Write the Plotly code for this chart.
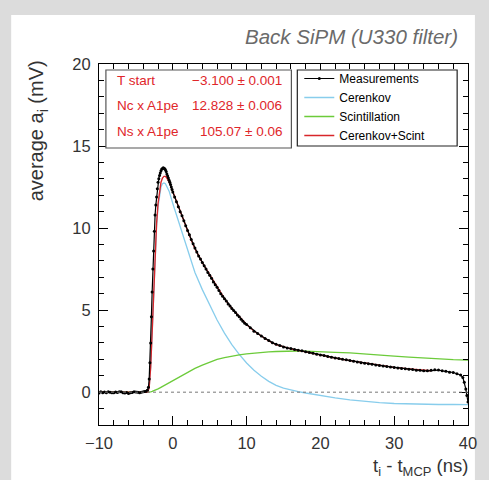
import plotly.graph_objects as go

# ---------------- data ----------------
fit_t = [-10, -4, -3.4, -3.2, -3.0, -2.8, -2.6, -2.4, -2.2, -2.0, -1.8, -1.6, -1.4, -1.2,
         -1.0, -0.8, -0.5, 0, 0.5, 1, 1.5, 2, 2.5, 3, 4, 5, 6, 7, 8, 9, 10, 11, 12, 13,
         14, 15, 16, 17, 18, 19, 20, 22, 24, 26, 28, 30, 32, 34, 36, 38, 40]

cerenkov = [0, 0, 0, 0.3, 1.5, 3.6, 6.0, 8.3, 10.1, 11.3, 12.1, 12.5, 12.7, 12.75,
            12.7, 12.55, 12.25, 11.5, 10.8, 10.05, 9.35, 8.65, 7.95, 7.3, 6.25, 5.3,
            4.4, 3.6, 2.9, 2.3, 1.78, 1.34, 0.97, 0.66, 0.42, 0.25, 0.13, 0.04,
            -0.05, -0.13, -0.2, -0.35, -0.47, -0.57, -0.64, -0.69, -0.72, -0.74, -0.75,
            -0.75, -0.76]

scintillation = [0, 0, 0, 0.0, 0.02, 0.05, 0.08, 0.12, 0.16, 0.2, 0.25, 0.3, 0.35, 0.4,
                 0.45, 0.5, 0.57, 0.7, 0.82, 0.95, 1.08, 1.2, 1.33, 1.45, 1.65, 1.85,
                 2.0, 2.1, 2.2, 2.28, 2.34, 2.39, 2.43, 2.46, 2.48, 2.5, 2.51, 2.51,
                 2.5, 2.49, 2.47, 2.43, 2.39, 2.34, 2.28, 2.2, 2.14, 2.08, 2.03, 1.98,
                 1.95]

sum_t = [-10, -4, -3.4, -3.2, -3.0, -2.8, -2.6, -2.4, -2.2, -2.0, -1.8, -1.6, -1.4, -1.2,
         -1.0, -0.8, -0.5, 0, 0.5, 1, 1.5, 2, 2.5, 3, 4, 5, 6, 7, 8, 9, 10, 11, 12, 13,
         14, 15, 16, 17, 18, 19, 20, 22, 24, 26, 28, 30, 32, 34, 35]
cer_plus_scint = [0, 0, 0, 0.3, 1.52, 3.65, 6.08, 8.42, 10.26, 11.5, 12.35, 12.8, 13.05,
                  13.15, 13.15, 13.05, 12.82, 12.2, 11.62, 11.0, 10.43, 9.85, 9.28, 8.75,
                  7.9, 7.15, 6.4, 5.7, 5.1, 4.58, 4.12, 3.73, 3.4, 3.12, 2.9, 2.75,
                  2.64, 2.55, 2.45, 2.36, 2.27, 2.08, 1.92, 1.77, 1.64, 1.51, 1.42, 1.34,
                  1.31]

meas_t = [-10, -9.75, -9.5, -9.25, -9, -8.75, -8.5, -8.25, -8, -7.75, -7.5, -7.25, -7,
          -6.75, -6.5, -6.25, -6, -5.75, -5.5, -5.25, -5, -4.75, -4.5, -4.25, -4, -3.8,
          -3.6, -3.45, -3.3, -3.2, -3.1, -3.0, -2.9, -2.8, -2.7, -2.6, -2.5, -2.4, -2.3,
          -2.2, -2.1, -2.0, -1.9, -1.8, -1.7, -1.6, -1.5, -1.4, -1.3, -1.2, -1.1, -1.0,
          -0.9, -0.8, -0.7, -0.6, -0.5, -0.4, -0.3, -0.2, -0.1, 0, 0.25, 0.5, 0.75, 1,
          1.25, 1.5, 1.75, 2, 2.25, 2.5, 2.75, 3, 3.25, 3.5, 3.75, 4, 4.25, 4.5, 4.75, 5,
          5.25, 5.5, 5.75, 6, 6.25, 6.5, 6.75, 7, 7.25, 7.5, 7.75, 8, 8.25, 8.5, 8.75, 9,
          9.25, 9.5, 9.75, 10, 10.5, 11, 11.5, 12, 12.5, 13, 13.5, 14, 14.5, 15, 15.5,
          16, 16.5, 17, 17.5, 18, 18.5, 19, 19.5, 20, 20.5, 21, 21.5, 22, 22.5, 23, 23.5,
          24, 24.5, 25, 25.5, 26, 26.5, 27, 27.5, 28, 28.5, 29, 29.5, 30, 30.5, 31, 31.5,
          32, 32.5, 33, 33.5, 34, 34.5, 35, 35.5, 36, 36.5, 37, 37.5, 38, 38.5, 39, 39.3,
          39.5, 39.7, 39.85, 40]
measurements = [-0.05, 0.02, -0.03, 0.01, -0.03, 0.02, 0.0, -0.04, -0.04, 0.01, -0.02,
                0.02, 0.03, -0.03, -0.05, -0.02, -0.08, -0.04, -0.02, 0.02, 0.01, -0.01,
                -0.03, 0.0, 0.02, 0.04, 0.06, 0.12, 0.3, 0.8, 1.8, 3.0, 4.6, 6.1, 7.5,
                8.6, 9.8, 10.8, 11.4, 11.9, 12.4, 12.8, 13.0, 13.2, 13.35, 13.5, 13.6,
                13.62, 13.68, 13.65, 13.62, 13.55, 13.45, 13.3, 13.18, 13.05, 12.92, 12.8,
                12.65, 12.5, 12.35, 12.2, 11.9, 11.6, 11.3, 11.0, 10.75, 10.45, 10.15,
                9.85, 9.6, 9.3, 9.05, 8.78, 8.55, 8.3, 8.12, 7.9, 7.7, 7.5, 7.3, 7.12,
                6.95, 6.72, 6.55, 6.4, 6.2, 6.0, 5.85, 5.7, 5.55, 5.38, 5.25, 5.1, 4.98,
                4.85, 4.7, 4.6, 4.45, 4.33, 4.2, 4.12, 3.92, 3.72, 3.58, 3.42, 3.27, 3.15,
                3.02, 2.92, 2.84, 2.76, 2.7, 2.66, 2.6, 2.56, 2.52, 2.47, 2.42, 2.38, 2.31,
                2.27, 2.23, 2.18, 2.13, 2.09, 2.05, 2.0, 1.97, 1.93, 1.88, 1.84, 1.8, 1.77,
                1.73, 1.7, 1.66, 1.63, 1.6, 1.57, 1.54, 1.51, 1.48, 1.45, 1.43, 1.4, 1.38,
                1.34, 1.33, 1.3, 1.3, 1.33, 1.36, 1.35, 1.3, 1.27, 1.22, 1.2, 1.12, 1.05,
                0.9, 0.6, 0.2, -0.2, -0.6]

stat_labels = ["T start", "Nc x A1pe", "Ns x A1pe"]
stat_values = ["\u22123.100 \u00b1 0.001", "12.828 \u00b1 0.006", "105.07 \u00b1 0.06"]

# ---------------- figure ----------------
W, H = 489, 480
ML, MR, MT, MB = 99, 16, 64, 55
PW, PH = W - ML - MR, H - MT - MB

def px(x):
    return (x - ML) / PW

def py(y):
    return (H - MB - y) / PH

FONT = "Liberation Sans, Arial, sans-serif"
RED_TXT = "#e0262a"

fig = go.Figure()
fig.add_trace(go.Scatter(x=fit_t, y=cerenkov, mode="lines", name="Cerenkov",
                         line=dict(color="#88cdec", width=1.3), legendrank=2,
                         legendgroup="c"))
fig.add_trace(go.Scatter(x=fit_t, y=scintillation, mode="lines", name="Scintillation",
                         line=dict(color="#6ccb3a", width=1.3), legendrank=3,
                         legendgroup="s"))
fig.add_trace(go.Scatter(x=sum_t, y=cer_plus_scint, mode="lines", name="Cerenkov+Scint",
                         line=dict(color="#d8262a", width=1.4), legendrank=4,
                         legendgroup="r"))
fig.add_trace(go.Scatter(x=meas_t, y=measurements, mode="lines+markers", name="Measurements",
                         line=dict(color="black", width=1.2),
                         marker=dict(color="black", size=3), legendrank=1,
                         legendgroup="m"))

shapes = [
    # white panel on grey page
    dict(type="rect", xref="paper", yref="paper", x0=px(10), x1=px(480), y0=py(482),
         y1=py(15), fillcolor="white", line=dict(width=0), layer="below"),
    # zero line
    dict(type="line", xref="paper", yref="y", x0=0, x1=1, y0=0, y1=0,
         line=dict(color="#777777", width=1, dash="dot"), layer="above"),
    # stats box
    dict(type="rect", xref="paper", yref="paper", x0=px(106), x1=px(294), y0=py(148),
         y1=py(70), fillcolor="white", line=dict(color="#555555", width=1.2),
         layer="above"),
    # legend box
    dict(type="rect", xref="paper", yref="paper", x0=px(300), x1=px(462), y0=py(146),
         y1=py(70), fillcolor="white", line=dict(color="#222222", width=1.2),
         layer="above"),
]

annotations = [
    dict(text="Back SiPM (U330 filter)", xref="paper", yref="paper", x=px(465), y=py(36),
         xanchor="right", yanchor="middle", showarrow=False,
         font=dict(family=FONT, size=20.5, color="#6a6a6a", style="italic")),
    dict(text="average a<sub>i</sub> (mV)", xref="paper", yref="paper", x=px(37), y=py(58),
         xanchor="center", yanchor="top", textangle=-90, showarrow=False,
         font=dict(family=FONT, size=20, color="#333333")),
    dict(text="t<sub>i</sub> - t<sub>MCP</sub> (ns)", xref="paper", yref="paper",
         x=px(475), y=py(467), xanchor="right", yanchor="middle", showarrow=False,
         font=dict(family=FONT, size=18.5, color="#333333")),
]
row_y = [80, 105, 131]
for lab, val, ry in zip(stat_labels, stat_values, row_y):
    annotations.append(dict(text=lab, xref="paper", yref="paper", x=px(115), y=py(ry),
                            xanchor="left", yanchor="middle", showarrow=False,
                            font=dict(family=FONT, size=13.5, color=RED_TXT)))
    annotations.append(dict(text=val, xref="paper", yref="paper", x=px(287), y=py(ry),
                            xanchor="right", yanchor="middle", showarrow=False,
                            font=dict(family=FONT, size=13.5, color=RED_TXT)))

axis_common = dict(showline=True, linecolor="black", linewidth=1, mirror="ticks",
                   ticks="inside", ticklen=9, tickcolor="black", showgrid=False,
                   zeroline=False, tickfont=dict(family=FONT, size=16.5, color="#333333"))

fig.update_layout(
    width=W, height=H,
    margin=dict(l=ML, r=MR, t=MT, b=MB, pad=0),
    paper_bgcolor="#dcdcdc",
    plot_bgcolor="white",
    showlegend=True,
    legend=dict(x=px(302), y=py(64), xanchor="left", yanchor="top",
                bgcolor="rgba(0,0,0,0)", borderwidth=0, tracegroupgap=0,
                traceorder="normal", itemwidth=30,
                font=dict(family=FONT, size=12, color="black")),
    xaxis=dict(range=[-10, 40], tickvals=[-10, 0, 10, 20, 30, 40],
               ticklabelstandoff=3,
               minor=dict(dtick=2, ticklen=5, ticks="inside", tickcolor="black"),
               **axis_common),
    yaxis=dict(range=[-2, 20], tickvals=[0, 5, 10, 15, 20],
               ticklabelstandoff=4,
               minor=dict(dtick=1, ticklen=5, ticks="inside", tickcolor="black"),
               **axis_common),
    shapes=shapes,
    annotations=annotations,
)

fig.write_html("out.html")
